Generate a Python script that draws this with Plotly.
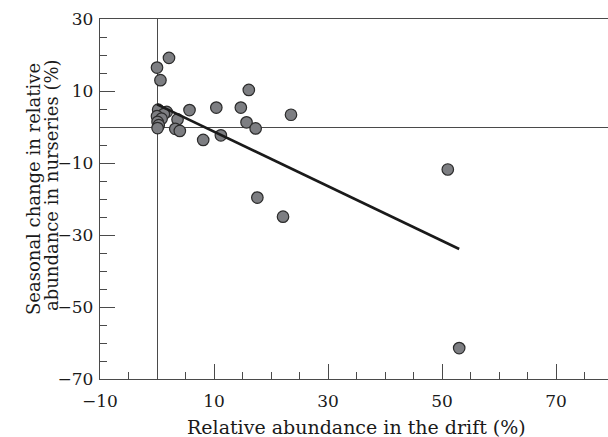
import plotly.graph_objects as go

# Data
drift_pct = [2.1, 0.0, 0.6, 16.1, 5.7, 10.4, 14.7, 23.5, 15.7, 17.3, 11.2, 8.1,
             3.6, 3.2, 4.0, 0.2, 1.7, 1.2, 0.0, 0.8, 0.1, 0.3, 0.1,
             17.6, 22.1, 51.0, 53.0]
nursery_change = [19.2, 16.5, 13.0, 10.3, 4.7, 5.4, 5.4, 3.4, 1.3, -0.4, -2.3, -3.6,
                  2.1, -0.5, -1.1, 4.8, 4.2, 3.6, 3.0, 2.3, 1.4, 0.5, -0.3,
                  -19.6, -24.9, -11.8, -61.4]
fit_x = [0.0, 53.0]
fit_y = [6.3, -33.9]

x_tickvals = [-10, 10, 30, 50, 70]
x_ticktext = ["\u221210", "10", "30", "50", "70"]
y_tickvals = [-70, -50, -30, -10, 10, 30]
y_ticktext = ["\u221270", "\u221250", "\u221230", "\u221210", "10", "30"]

x_title = "Relative abundance in the drift (%)"
y_title_lines = ["Seasonal change in relative", "abundance in nurseries (%)"]

FONT = "DejaVu Serif"
AX = "#4a4a4a"
TXT = "#1a1a1a"

fig = go.Figure()
fig.add_trace(go.Scatter(
    x=drift_pct, y=nursery_change, mode="markers",
    marker=dict(size=11.5, color="#7d7e82", line=dict(color="#2b2b2b", width=1.2)),
    showlegend=False))
fig.add_trace(go.Scatter(
    x=fit_x, y=fit_y, mode="lines",
    line=dict(color="#1a1a1a", width=2.6), showlegend=False))

common = dict(
    ticks="inside", ticklen=15, tickwidth=1.2, tickcolor=AX,
    showline=True, linecolor=AX, linewidth=1.4,
    showgrid=False, zeroline=True, zerolinecolor=AX, zerolinewidth=1.1,
    tickfont=dict(family=FONT, size=17, color=TXT),
    minor=dict(ticks="inside", ticklen=7, tickwidth=1.2, tickcolor=AX, dtick=5, showgrid=False),
)

fig.update_xaxes(range=[-10, 79.1], tickmode="array", tickvals=x_tickvals,
                 ticktext=x_ticktext, mirror=True, ticklabelstandoff=6, **common)
fig.update_yaxes(range=[-70, 30], tickmode="array", tickvals=y_tickvals,
                 ticktext=y_ticktext, ticklabelstandoff=2, **common)

fig.add_annotation(text=x_title, xref="paper", yref="paper",
                   x=(356 - 100) / 508, y=(379 - 427) / 360,
                   xanchor="center", yanchor="middle", showarrow=False,
                   font=dict(family=FONT, size=19, color=TXT))
for line, xpx, ypx in zip(y_title_lines, [33, 51], [189, 185]):
    fig.add_annotation(text=line, xref="paper", yref="paper",
                       x=(xpx - 100) / 508, y=(379 - ypx) / 360, textangle=-90,
                       xanchor="center", yanchor="middle", showarrow=False,
                       font=dict(family=FONT, size=18, color=TXT))

fig.update_layout(width=608, height=437, margin=dict(l=100, r=0, t=19, b=58),
                  plot_bgcolor="white", paper_bgcolor="white")

fig.write_html("out.html", config={"displayModeBar": False},
               post_script="document.body.style.margin='0';document.body.style.overflow='hidden';")
